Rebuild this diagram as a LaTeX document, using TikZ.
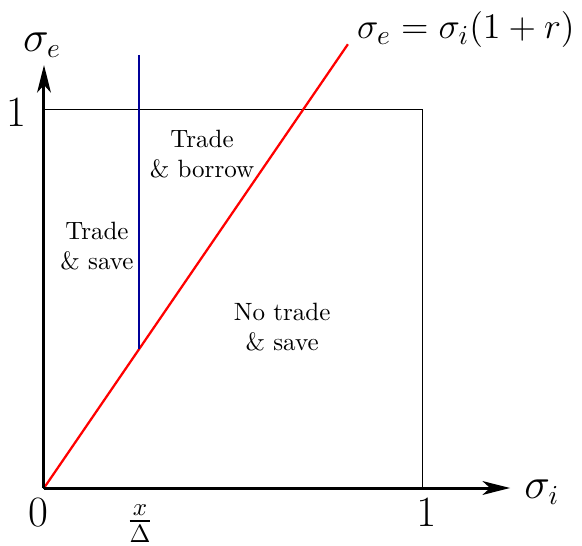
\documentclass[tikz,border=0pt]{standalone}
\usepackage{amsmath,amssymb}
\usepackage{xcolor}
\usepackage{tikz}
\usetikzlibrary{arrows.meta,positioning}
\tikzset{
  axis/.style    = {-{Stealth[length=11pt,width=5.5pt,inset=3pt]}, line width=1.2pt},
  frame/.style   = {draw, line width=0.4pt},
  ratio/.style   = {red, line width=0.9pt},
  bound/.style   = {blue!60!black, line width=0.9pt},
  region/.style  = {font=\normalsize, align=center},
  axlab/.style   = {font=\fontsize{16}{19}\selectfont, inner sep=0pt}
}

\begin{document}
\begin{tikzpicture}[x=5.31cm, y=5.31cm]
\useasboundingbox (-0.1164,-0.1508) rectangle (1.4233,1.291);
\coordinate (O)   at (0,0);
\coordinate (xend) at (1.233,0);
\coordinate (yend) at (0,1.119);
\coordinate (rtop) at (0.804,1.174);
\coordinate (btop) at (0.251,1.146);
\coordinate (bbot) at (0.251,0.3665);
\draw[frame] (0,0) rectangle (1,1);
\draw[ratio] (O) -- (rtop);
\draw[bound] (btop) -- (bbot);
\draw[axis] (O) -- (xend);
\draw[axis] (O) -- (yend);
\node[axlab] (sige)  at (-0.005,1.172) {$\sigma_e$};
\node[axlab] (sigi)  at (1.317,-0.011) {$\sigma_i$};
\node[axlab] (yone)  at (-0.074,0.992) {$1$};
\node[axlab] (zero)  at (-0.016,-0.066) {$0$};
\node[axlab] (xone)  at (1.011,-0.066) {$1$};
\node[axlab, font=\Large] (xdel) at (0.254,-0.094) {$\frac{x}{\Delta}$};
\node[axlab, font=\fontsize{15.6}{18}\selectfont] (eqn) at (1.116,1.212)
      {$\sigma_e=\sigma_i(1+r)$};
\node[region] (borrow) at (0.418,0.884) {Trade\\\& borrow};
\node[region] (save)   at (0.140,0.640) {Trade\\\& save};
\node[region] (notrade) at (0.630,0.426) {No trade\\\& save};
\end{tikzpicture}
\end{document}
